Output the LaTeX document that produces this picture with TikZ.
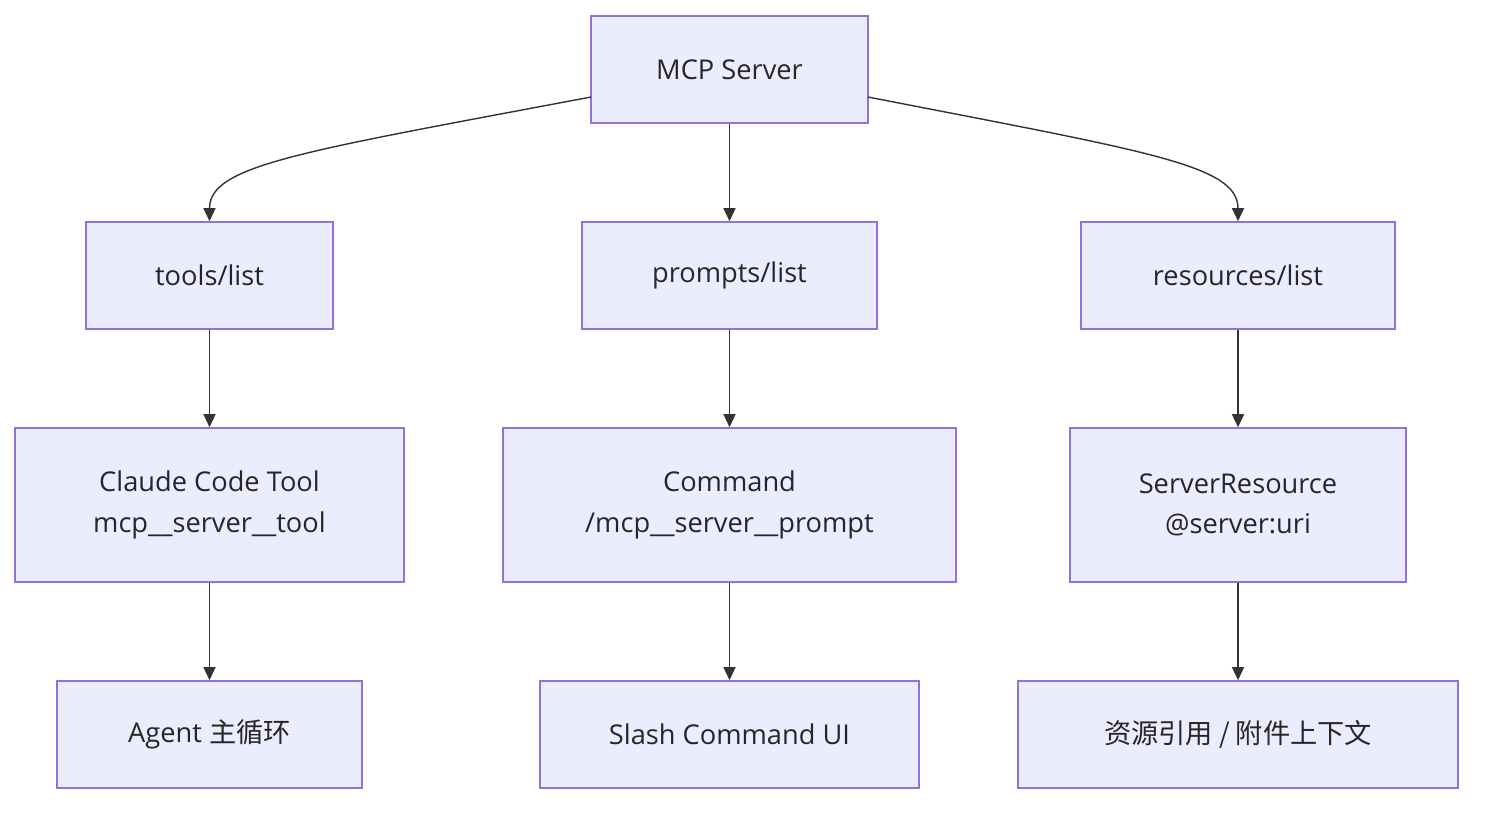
\documentclass[tikz,border=0pt]{standalone}
\usepackage{fontspec}
\setmainfont{Open Sans}
\newfontfamily\cjk{Noto Sans CJK SC}
\usepackage{tikz}
\usetikzlibrary{arrows.meta, positioning, calc}
\definecolor{boxfill}{HTML}{ECECFF}
\definecolor{boxdraw}{HTML}{9370DB}
\definecolor{linecol}{HTML}{333333}
\tikzstyle{box}=[draw=boxdraw, fill=boxfill, line width=0.9pt, align=center,
  font=\fontsize{15.5}{23}\selectfont, text=black!85, inner sep=0pt]
\tikzstyle{arrow}=[-{Triangle[length=2.6mm, width=2.4mm]}, draw=linecol, line width=0.8pt]

\begin{document}
\begin{tikzpicture}[x=0.02cm, y=-0.02cm]
      \useasboundingbox (0,0) rectangle (1490,812);

      \node[box, minimum width=5.54cm, minimum height=2.14cm] (mcpServer) at (729.5,69.5) {MCP Server};
      \node[box, minimum width=4.94cm, minimum height=2.14cm] (toolsList) at (209.5,275.5) {tools/list};
      \node[box, minimum width=5.90cm, minimum height=2.14cm] (promptsList) at (729.5,275.5) {prompts/list};
      \node[box, minimum width=6.28cm, minimum height=2.14cm] (resourcesList) at (1238,275.5) {resources/list};
      \node[box, minimum width=7.78cm, minimum height=3.08cm] (codeTool) at (209.5,505) {Claude Code Tool\\mcp\_\_server\_\_tool};
      \node[box, minimum width=9.06cm, minimum height=3.08cm] (command) at (729.5,505) {Command\\/mcp\_\_server\_\_prompt};
      \node[box, minimum width=6.72cm, minimum height=3.08cm] (serverResource) at (1238,505) {ServerResource\\@server:uri};
      \node[box, minimum width=6.10cm, minimum height=2.14cm] (agentLoop) at (209.5,734.5) {Agent {\cjk 主循环}};
      \node[box, minimum width=7.58cm, minimum height=2.14cm] (slashUI) at (729.5,734.5) {Slash Command UI};
      \node[box, minimum width=8.80cm, minimum height=2.14cm] (resourceRef) at (1238,734.5) {{\cjk 资源引用 / 附件上下文}};

      \coordinate (leftOut) at (591,97);
      \coordinate (rightOut) at (868,97);

      \draw[arrow] (leftOut) .. controls (300,152) and (209.5,165) .. (toolsList.north);
      \draw[arrow] (rightOut) .. controls (1150,152) and (1238,165) .. (resourcesList.north);
      \draw[arrow] (mcpServer) -- (promptsList);

      \draw[arrow] (toolsList) -- (codeTool);
      \draw[arrow] (promptsList) -- (command);
      \draw[arrow] (resourcesList) -- (serverResource);
      \draw[arrow] (codeTool) -- (agentLoop);
      \draw[arrow] (command) -- (slashUI);
      \draw[arrow] (serverResource) -- (resourceRef);
    \end{tikzpicture}
\end{document}
